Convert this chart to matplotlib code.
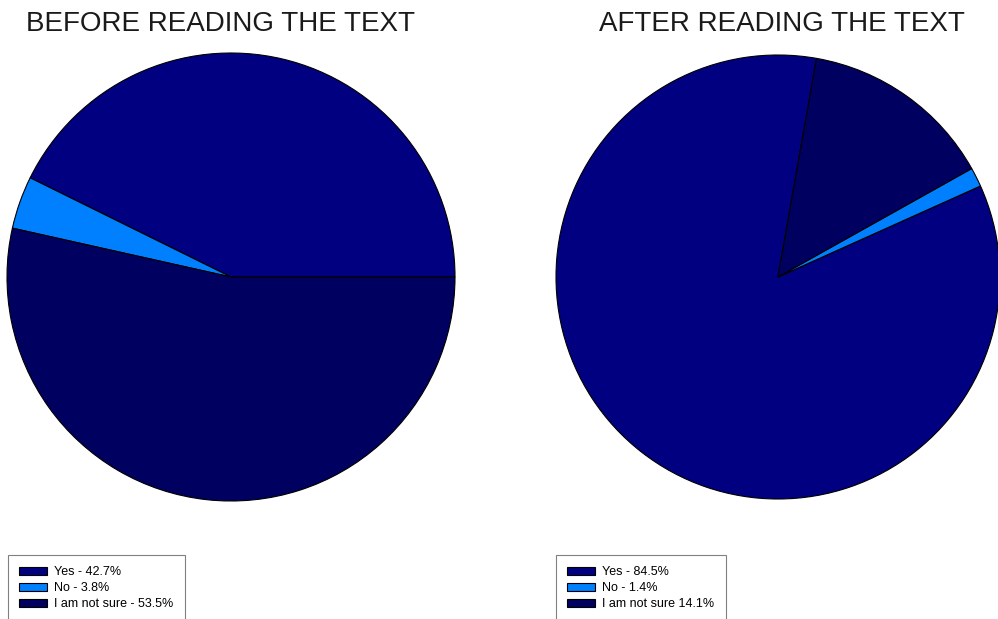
# IMPORTS #######################################

import matplotlib.pyplot as plt

# SETUP #########################################

plt.rcParams.update({"font.family": ["Liberation Sans", "DejaVu Sans"], "font.size": 9})

# DATA ##########################################

labels_before = ["Yes - 42.7%", "No - 3.8%", "I am not sure - 53.5%"]
values_before = [42.7, 3.8, 53.5]

labels_after = ["Yes - 84.5%", "No - 1.4%", "I am not sure 14.1%"]
values_after = [84.5, 1.4, 14.1]

colors = ["#000080", "#0080ff", "#000060"]

titles = ["BEFORE READING THE TEXT", "AFTER READING THE TEXT"]

# FIGURE ########################################

W, H = 998, 619
fig = plt.figure(figsize=(W / 100, H / 100), dpi=100)


def px_axes(cx, cy, r):
    # axes in pixel coordinates (origin top-left), square around the pie
    return fig.add_axes([(cx - r) / W, 1 - (cy + r) / H, 2 * r / W, 2 * r / H])


ax1 = px_axes(231, 277, 224)
ax2 = px_axes(778, 277, 222)

# PLOTTING ###################

wedges1, _ = ax1.pie(values_before, colors=colors, startangle=0, counterclock=True,
                     wedgeprops=dict(edgecolor="black", linewidth=0.8))
wedges2, _ = ax2.pie(values_after, colors=colors, startangle=80, counterclock=True,
                     wedgeprops=dict(edgecolor="black", linewidth=0.8))

for ax, wedges in ((ax1, wedges1), (ax2, wedges2)):
    ax.set_xlim(-1, 1)
    ax.set_ylim(-1, 1)
    ax.set_aspect("equal")
    for w in wedges:
        w.set_clip_on(False)

# TITLES #####################

fig.text(220 / W, 1 - 24 / H, titles[0], ha="center", va="center", fontsize=20, color="#1a1a1a")
fig.text(782 / W, 1 - 24 / H, titles[1], ha="center", va="center", fontsize=20, color="#1a1a1a")

# LEGENDS ####################

leg_kw = dict(loc="upper left", fontsize=9, fancybox=False, edgecolor="#808080",
              framealpha=1, handlelength=2.25, handleheight=0.65, handletextpad=0.55,
              labelspacing=0.32, borderpad=0.9, borderaxespad=0)
leg1 = fig.legend(wedges1, labels_before, bbox_to_anchor=(8 / W, 1 - 555 / H), **leg_kw)
leg2 = fig.legend(wedges2, labels_after, bbox_to_anchor=(556 / W, 1 - 555 / H), **leg_kw)
for leg in (leg1, leg2):
    leg.get_frame().set_linewidth(0.8)

# EXPORT #########################################

fig.savefig("out.png", dpi=100)
